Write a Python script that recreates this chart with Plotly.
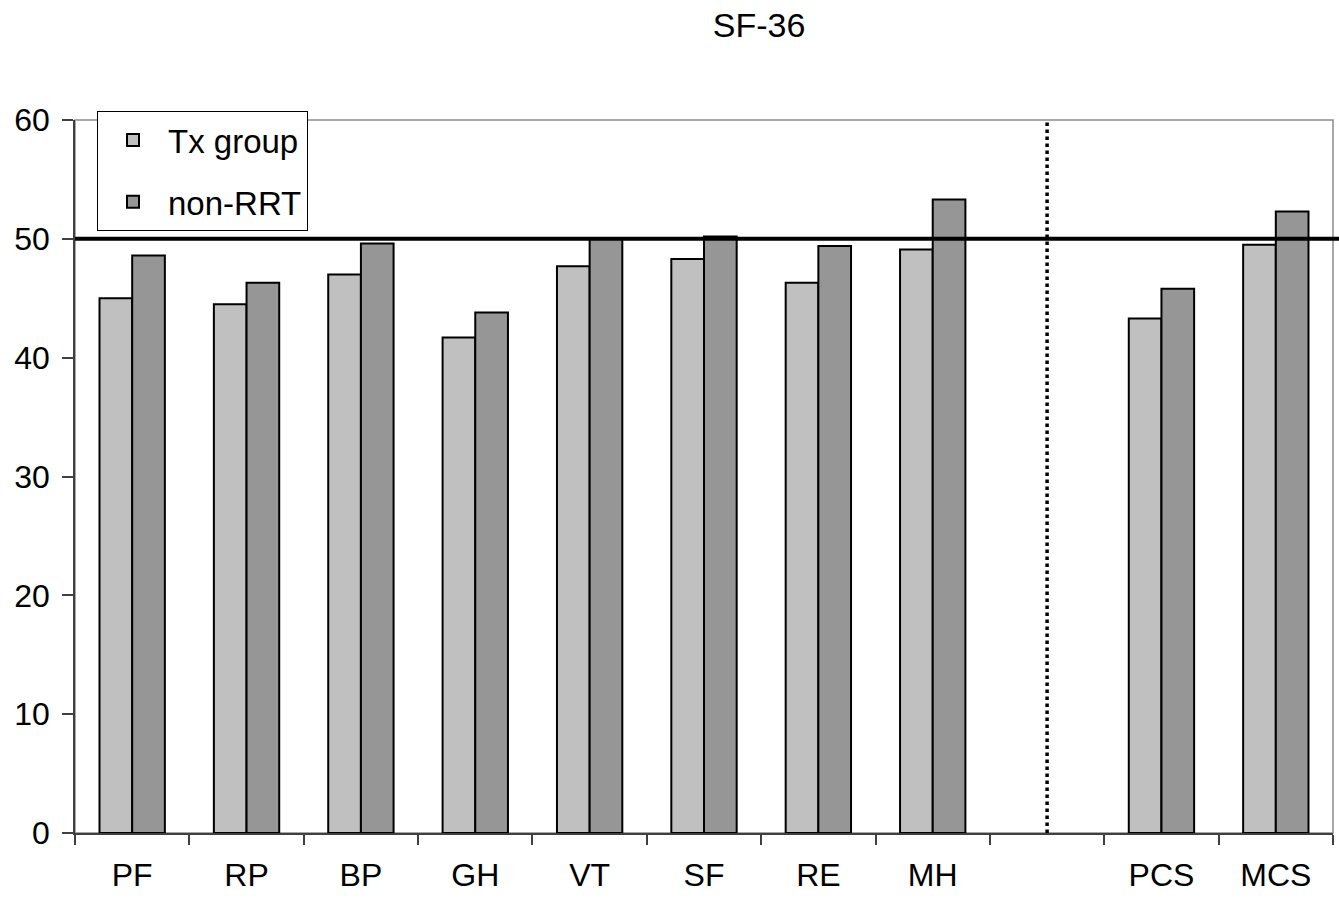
import plotly.graph_objects as go

categories = ["PF", "RP", "BP", "GH", "VT", "SF", "RE", "MH", " ", "PCS", "MCS"]
tx_group = [45.0, 44.5, 47.0, 41.7, 47.7, 48.3, 46.3, 49.1, None, 43.3, 49.5]
non_rrt = [48.6, 46.3, 49.6, 43.8, 50.0, 50.2, 49.4, 53.3, None, 45.8, 52.3]
reference_value = 50
y_ticks = [0, 10, 20, 30, 40, 50, 60]
title_text = "SF-36"

FONT = "Liberation Sans, Arial, sans-serif"
W, H = 1339, 903
L, R, T, B = 75, 6, 120, 70
plot_w = W - L - R
plot_h = H - T - B

fig = go.Figure()
fig.add_trace(go.Bar(
    x=categories, y=tx_group, name="Tx group",
    marker=dict(color="#C0C0C0", line=dict(color="black", width=2)),
    legendgroup="a",
))
fig.add_trace(go.Bar(
    x=categories, y=non_rrt, name="non-RRT",
    marker=dict(color="#969696", line=dict(color="black", width=2)),
    legendgroup="b",
))

# plot-area border (gray)
fig.add_shape(type="rect", xref="paper", yref="paper", x0=0, x1=1, y0=0, y1=1,
              line=dict(color="#8c8c8c", width=1.5), layer="below")
# reference line at 50
fig.add_shape(type="line", xref="paper", yref="y", x0=0, x1=(W - L) / plot_w,
              y0=reference_value, y1=reference_value,
              line=dict(color="black", width=4), layer="above")
# dotted separator
fig.add_shape(type="line", xref="x", yref="y", x0=categories[8], x1=categories[8],
              y0=0, y1=60.25, line=dict(color="black", width=3.5, dash="dot"))

fig.update_layout(
    width=W, height=H,
    margin=dict(l=L, r=R, t=T, b=B),
    paper_bgcolor="white", plot_bgcolor="white",
    font=dict(family=FONT, size=32, color="black"),
    title=dict(text=title_text, x=759 / W, xref="container", xanchor="center",
               y=1 - 25 / H, yref="container", yanchor="middle",
               font=dict(family=FONT, size=34, color="black")),
    barmode="group", bargap=1.5 / 3.5, bargroupgap=0,
    showlegend=True,
    legend=dict(x=(97 - L) / plot_w, y=1 + 9 / plot_h, xanchor="left", yanchor="top",
                bordercolor="black", borderwidth=1, bgcolor="white",
                font=dict(family=FONT, size=33, color="black"),
                traceorder="grouped", tracegroupgap=16, itemwidth=60,
                entrywidth=222, entrywidthmode="pixels"),
    xaxis=dict(type="category", categoryorder="array", categoryarray=categories,
               showline=True, linecolor="#404040", linewidth=1.5,
               ticks="outside", tickson="boundaries", ticklen=10, tickcolor="#404040",
               tickwidth=1.5, showgrid=False, zeroline=False,
               ticklabelstandoff=13,
               tickfont=dict(family=FONT, size=32, color="black")),
    yaxis=dict(range=[0, 60], tickvals=y_ticks, showline=True, linecolor="#404040",
               linewidth=1.5, ticks="outside", ticklen=11, tickcolor="#404040",
               tickwidth=1.5, showgrid=False, zeroline=False,
               ticklabelstandoff=6,
               tickfont=dict(family=FONT, size=32, color="black")),
)

fig.write_html("out.html", config={"displayModeBar": False},
               post_script="document.body.style.margin='0';document.body.style.overflow='hidden';")
